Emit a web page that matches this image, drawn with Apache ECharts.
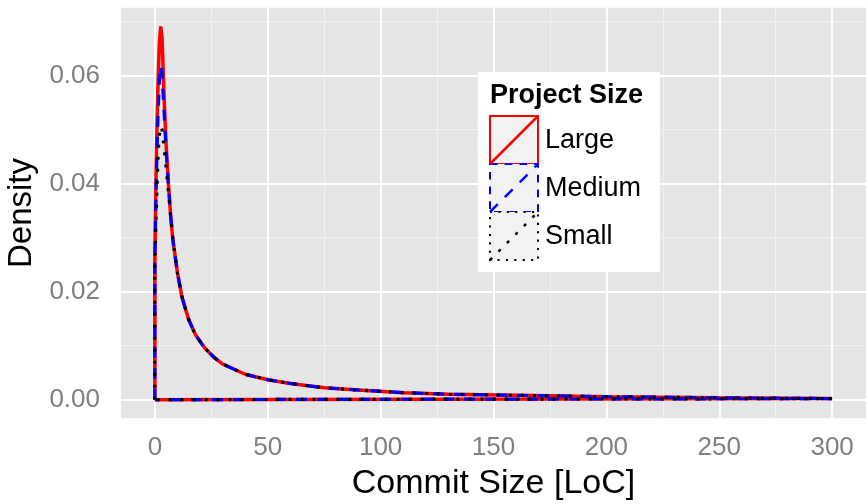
<!DOCTYPE html>
<html>
<head>
<meta charset="utf-8">
<script src="https://cdn.jsdelivr.net/npm/echarts@6/dist/echarts.min.js"></script>
<style>
html, body { margin: 0; padding: 0; background: #fff; }
#chart { width: 866px; height: 504px; }
</style>
</head>
<body>
<div id="chart"></div>
<script>
// 数据：提交大小的密度曲线
var sizeNames = ['Large', 'Medium', 'Small'];
var commitSize = [0, 0.5, 1, 1.5, 2, 2.6, 3.2, 4, 5, 6, 7, 8, 10, 12, 15, 18, 22, 26, 30, 40, 50, 60, 75, 90, 110, 130, 160, 200, 250, 300];
var densLarge  = [0.026, 0.041, 0.052, 0.060, 0.066, 0.0691, 0.067, 0.057, 0.047, 0.040, 0.034, 0.0295, 0.0235, 0.019, 0.0148, 0.012, 0.0096, 0.0079, 0.0066, 0.0047, 0.0037, 0.0030, 0.0022, 0.0018, 0.0013, 0.0010, 0.0008, 0.00055, 0.00035, 0.0002];
var densMedium = [0.026, 0.038, 0.047, 0.054, 0.059, 0.0618, 0.060, 0.054, 0.046, 0.040, 0.034, 0.0295, 0.0235, 0.019, 0.0148, 0.012, 0.0096, 0.0079, 0.0066, 0.0047, 0.0037, 0.0030, 0.0022, 0.0018, 0.0013, 0.0010, 0.0008, 0.00055, 0.00035, 0.0002];
var densSmall  = [0.025, 0.033, 0.040, 0.046, 0.049, 0.0506, 0.050, 0.047, 0.043, 0.0385, 0.034, 0.0295, 0.0235, 0.019, 0.0148, 0.012, 0.0096, 0.0079, 0.0066, 0.0047, 0.0037, 0.0030, 0.0022, 0.0018, 0.0013, 0.0010, 0.0008, 0.00055, 0.00035, 0.0002];

// 刻度
var xMajor = [0, 50, 100, 150, 200, 250, 300];
var xMinor = [25, 75, 125, 175, 225, 275];
var yMajor = [0, 0.02, 0.04, 0.06];
var yMinor = [0.01, 0.03, 0.05, 0.07];

var FONT = 'Liberation Sans, Arial, Helvetica, sans-serif';
var colors = ['#ff0000', '#0000ff', '#000000'];
var dashes = ['solid', [11, 10], [3, 9]];

// 闭合多边形 (ggplot geom_density 的样子)
function polygon(xs, ys) {
    var pts = [[xs[0], 0]];
    for (var i = 0; i < xs.length; i++) {
        pts.push([xs[i], ys[i]]);
    }
    pts.push([xs[xs.length - 1], 0]);
    pts.push([xs[0], 0]);
    return pts;
}

var chart = echarts.init(document.getElementById('chart'));

var gridMajor = xMajor.map(function (v) { return {xAxis: v}; })
    .concat(yMajor.map(function (v) { return {yAxis: v}; }));
var gridMinor = xMinor.map(function (v) { return {xAxis: v}; })
    .concat(yMinor.map(function (v) { return {yAxis: v}; }));

var allDens = [densLarge, densMedium, densSmall];
var series = [
    {
        type: 'line', name: 'gridMinor', data: [], silent: true, z: 1,
        markLine: {
            silent: true, symbol: 'none', z: 1, animation: false,
            label: {show: false},
            lineStyle: {color: '#f2f2f2', width: 1, type: 'solid'},
            data: gridMinor
        }
    },
    {
        type: 'line', name: 'gridMajor', data: [], silent: true, z: 1,
        markLine: {
            silent: true, symbol: 'none', z: 1, animation: false,
            label: {show: false},
            lineStyle: {color: '#ffffff', width: 2, type: 'solid'},
            data: gridMajor
        }
    }
];
for (var s = 0; s < sizeNames.length; s++) {
    series.push({
        type: 'line',
        name: sizeNames[s],
        data: polygon(commitSize, allDens[s]),
        showSymbol: false,
        symbol: 'none',
        z: 3 + s,
        lineStyle: {color: colors[s], width: s === 0 ? 3.5 : 3.2, type: dashes[s]},
        itemStyle: {color: colors[s]}
    });
}

// 图例 (手画)
var legendEls = [
    {type: 'rect', shape: {x: 478, y: 72, width: 182, height: 200}, style: {fill: '#ffffff'}, z: 10},
    {type: 'text', x: 490, y: 96, z: 11,
        style: {text: 'Project Size', font: 'bold 27px ' + FONT, fill: '#000', verticalAlign: 'middle'}}
];
for (var k = 0; k < sizeNames.length; k++) {
    var ky = 116 + 48 * k;
    legendEls.push({type: 'rect', shape: {x: 490, y: ky, width: 48, height: 48}, z: 11,
        style: {fill: '#f2f2f2', stroke: colors[k], lineWidth: 2, lineDash: dashes[k] === 'solid' ? null : [dashes[k][0] * 0.7, dashes[k][1] * 0.7]}});
    legendEls.push({type: 'line', shape: {x1: 490, y1: ky + 48, x2: 538, y2: ky}, z: 12,
        style: {stroke: colors[k], lineWidth: 2.5, lineDash: dashes[k] === 'solid' ? null : dashes[k]}});
    legendEls.push({type: 'text', x: 545, y: ky + 25, z: 12,
        style: {text: sizeNames[k], font: '27px ' + FONT, fill: '#000', verticalAlign: 'middle'}});
}

var option = {
    animation: false,
    backgroundColor: '#ffffff',
    grid: {
        left: 121, right: 0, top: 7.7, bottom: 85.7,
        containLabel: false, outerBoundsMode: 'none',
        show: true, backgroundColor: '#e5e5e5', borderWidth: 0
    },
    xAxis: {
        type: 'value', min: -15, max: 315,
        name: 'Commit Size [LoC]', nameLocation: 'middle', nameGap: 43,
        nameTextStyle: {fontSize: 34, color: '#000', fontFamily: FONT},
        axisLine: {show: false},
        splitLine: {show: false},
        axisTick: {show: true, length: 12, customValues: xMajor, lineStyle: {color: '#7f7f7f', width: 2}},
        axisLabel: {customValues: xMajor, color: '#7f7f7f', fontSize: 26, fontFamily: FONT, margin: 17}
    },
    yAxis: {
        type: 'value', min: -0.00345, max: 0.07256,
        name: 'Density', nameLocation: 'middle', nameGap: 74,
        nameTextStyle: {fontSize: 33, color: '#000', fontFamily: FONT},
        axisLine: {show: false},
        splitLine: {show: false},
        axisTick: {show: true, length: 11, customValues: yMajor, lineStyle: {color: '#7f7f7f', width: 2}},
        axisLabel: {customValues: yMajor, color: '#7f7f7f', fontSize: 26, fontFamily: FONT, margin: 21,
            formatter: function (v) { return v.toFixed(2); }}
    },
    series: series,
    graphic: legendEls
};

chart.setOption(option);
</script>
</body>
</html>
